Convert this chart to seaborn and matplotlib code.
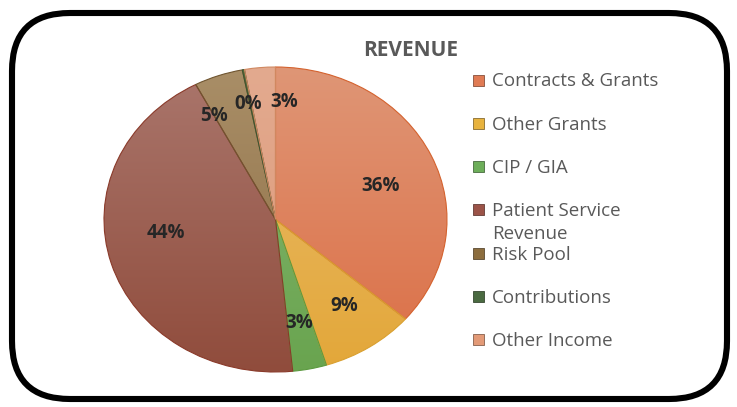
import matplotlib
matplotlib.use("Agg")
import matplotlib.pyplot as plt
from matplotlib.patches import FancyBboxPatch, Rectangle
import seaborn as sns

# data
categories = ["Contracts & Grants", "Other Grants", "CIP / GIA",
              "Patient Service\nRevenue", "Risk Pool", "Contributions", "Other Income"]
shares = [36.3, 8.9, 3.2, 43.9, 4.6, 0.2, 2.9]

# colours: light (top) / dark (bottom) for the Excel-like gradient, plus edge and legend swatch
top_colors = ["#DF9676", "#E9BC6C", "#86B771", "#AA766C", "#A98E67", "#55733F", "#E3AA8F"]
bottom_colors = ["#DC6E45", "#E3A739", "#69A44F", "#904C3C", "#8D6E44", "#4B6838", "#DC9877"]
edge_colors = ["#D4622E", "#D9A030", "#5C9A40", "#8A3A2A", "#6F5530", "#3E5530", "#D08860"]
swatch_colors = ["#E07B54", "#E8B33E", "#6DAE5A", "#9B5348", "#8C6D3E", "#4A6A41", "#E39A77"]

# label placement inside the pie (Excel "best fit" look), in pie units
label_xy = [(0.61, 0.22), (0.40, -0.57), (0.14, -0.68), (-0.64, -0.09),
            (-0.36, 0.68), (-0.16, 0.76), (0.05, 0.77)]

sns.set_theme(style="white")
plt.rcParams["font.family"] = ["Open Sans", "DejaVu Sans"]

W, H = 737, 407
fig = plt.figure(figsize=(W / 100, H / 100), dpi=100)
fig.patch.set_facecolor("white")

# background axes in pixel coordinates for frame, title and legend
bg = fig.add_axes([0, 0, 1, 1])
bg.set_xlim(0, W)
bg.set_ylim(H, 0)
bg.axis("off")

frame = FancyBboxPatch((12, 13), 715, 386, boxstyle="round,pad=0,rounding_size=58",
                       linewidth=4.4, edgecolor="black", facecolor="white")
bg.add_patch(frame)

bg.text(411, 51, "REVENUE", ha="center", va="center", fontsize=15,
        fontweight="bold", color="#595959")

# legend drawn by hand so the two-line entry does not push the others down
for i, (name, col) in enumerate(zip(categories, swatch_colors)):
    yc = 80 + 43.3 * i
    bg.add_patch(Rectangle((473.5, yc - 5.5), 11, 11, facecolor=col,
                           edgecolor=sns.dark_palette(col, 3)[1], linewidth=0.6))
    for j, line in enumerate(name.split("\n")):
        bg.text(492, yc + 6.5 + 23 * j, line, ha="left", va="baseline",
                fontsize=13.5, color="#595959")

# pie axes, stretched horizontally like the reference
ax = fig.add_axes([104 / W, 35 / H, 343 / W, 305 / H])
wedges, texts, autotexts = ax.pie(
    shares, startangle=90, counterclock=False, colors=swatch_colors,
    autopct="%.0f%%", pctdistance=0.6,
    wedgeprops=dict(linewidth=0.8),
    textprops=dict(fontsize=13.5, fontweight="bold", color="#262626"))
ax.set_aspect("auto")
ax.set_xlim(-1, 1)
ax.set_ylim(-1, 1)
ax.axis("off")

grad = [[v] for v in range(256)]
for w, top, bot, ec in zip(wedges, top_colors, bottom_colors, edge_colors):
    cmap = sns.blend_palette([bot, top], as_cmap=True)
    im = ax.imshow(grad, cmap=cmap, extent=(-1, 1, -1, 1), origin="lower",
                   aspect="auto", zorder=w.get_zorder(), interpolation="bilinear")
    im.set_clip_path(w)
    w.set_facecolor("none")
    w.set_edgecolor(ec)
    w.set_zorder(w.get_zorder() + 0.5)

for t, xy in zip(autotexts, label_xy):
    t.set_position(xy)
    t.set_zorder(5)

fig.savefig("out.png", dpi=100, facecolor="white")
